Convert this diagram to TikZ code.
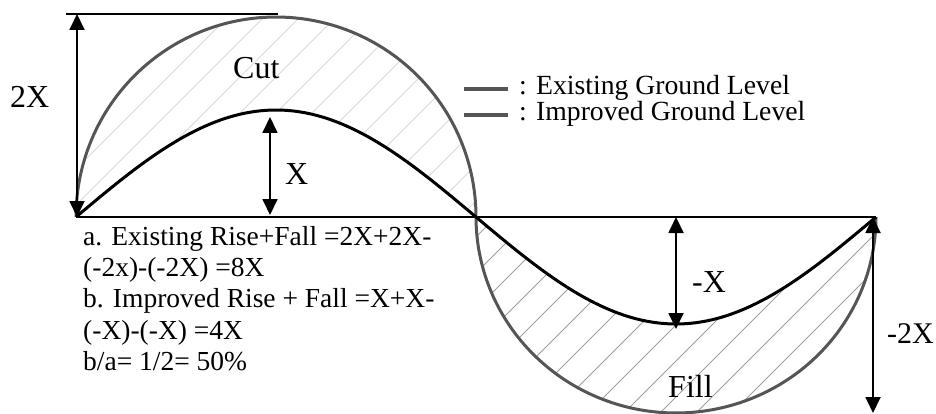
\documentclass[tikz,border=0pt]{standalone}
\usepackage{fontspec}
\setmainfont{Liberation Serif}
\usetikzlibrary{arrows.meta}
\definecolor{existcol}{HTML}{555555}
\definecolor{hatchA}{HTML}{DADADA}
\definecolor{hatchB}{HTML}{9E9E9E}
\begin{document}
\begin{tikzpicture}[x=1pt,y=-1pt,
  dim/.style={line width=1.8pt, {Triangle[width=15pt,length=16pt]}-{Triangle[width=15pt,length=16pt]}},
  existline/.style={line width=3pt, draw=existcol},
  imprline/.style={line width=3pt, draw=black},
  legline/.style={line width=4pt, draw=existcol},
  groundline/.style={line width=1.5pt, draw=black},
  lbl/.style={anchor=base west, inner sep=0pt, font=\fontsize{32}{32}\selectfont},
  txt/.style={anchor=base west, inner sep=0pt, font=\fontsize{27.5}{31}\selectfont},
  leg/.style={anchor=base west, inner sep=0pt, font=\fontsize{27.7}{31}\selectfont},
]
\useasboundingbox (0,0) rectangle (936,414);

% hatching: cut region
\begin{scope}
  \clip plot[domain=180:0, samples=100] ({276+200*cos(\x)},{217-200*sin(\x)})
     -- plot[domain=476:76, samples=100] (\x,{217-107*sin(0.45*(\x-76))}) -- cycle;
  \foreach \k in {0,...,20} \draw[hatchA, line width=1pt] ({245+36*\k},0) -- ({245+36*\k-460},460);
\end{scope}
% hatching: fill region
\begin{scope}
  \clip plot[domain=180:360, samples=100] ({676+200*cos(\x)},{217-196*sin(\x)})
     -- plot[domain=876:476, samples=100] (\x,{217-107*sin(0.45*(\x-76))}) -- cycle;
  \foreach \k in {10,...,40} \draw[hatchB, line width=1pt] ({245+36*\k},0) -- ({245+36*\k-460},460);
\end{scope}

% ground line and top reference line
\coordinate (g0) at (76,217);
\coordinate (gm) at (476,217);
\coordinate (g1) at (876,217);
\coordinate (t0) at (66,14);
\coordinate (t1) at (278,14);
\draw[groundline] (g0) -- (g1);
\draw[groundline] (t0) -- (t1);

% existing ground level (large)
\draw[existline] plot[domain=180:0, samples=120] ({276+200*cos(\x)},{217-200*sin(\x)});
\draw[existline] plot[domain=180:360, samples=120] ({676+200*cos(\x)},{217-196*sin(\x)});
% improved ground level (sine)
\draw[imprline] plot[domain=76:876, samples=200] (\x,{217-107*sin(0.45*(\x-76))});

% dimension arrows
\coordinate (a2t) at (77,14);
\coordinate (a2b) at (77,217);
\coordinate (a1t) at (270,117);
\coordinate (a1b) at (270,215);
\coordinate (b1t) at (676,217);
\coordinate (b1b) at (676,329);
\coordinate (b2t) at (873,217);
\coordinate (b2b) at (873,413);
\draw[dim] (a2t) -- (a2b);
\draw[dim] (a1t) -- (a1b);
\draw[dim] (b1t) -- (b1b);
\draw[dim] (b2t) -- (b2b);

% labels
\node[lbl] (l2x) at (10,108) {2X};
\node[lbl] (lcut) at (233,79) {Cut};
\node[lbl] (lx) at (285,185) {X};
\node[lbl] (lmx) at (692,292) {-X};
\node[lbl, font=\fontsize{30}{30}\selectfont] (lm2x) at (887,343) {-2X};
\node[lbl] (lfill) at (668,397) {Fill};

% legend
\coordinate (e0) at (464,89);
\coordinate (e1) at (508,89);
\coordinate (i0) at (464,115);
\coordinate (i1) at (508,115);
\draw[legline] (e0) -- (e1);
\draw[legline] (i0) -- (i1);
\node[leg] (legE) at (519,95) {: Existing Ground Level};
\node[leg] (legI) at (519,121) {: Improved Ground Level};

% text block
\node[txt] (ta) at (83,245) {a. Existing Rise+Fall =2X+2X-};
\node[txt] (ta2) at (83,276) {(-2x)-(-2X) =8X};
\node[txt] (tb) at (83,307) {b. Improved Rise + Fall =X+X-};
\node[txt] (tb2) at (83,339) {(-X)-(-X) =4X};
\node[txt] (tc) at (83,370) {b/a= 1/2= 50\%};
\end{tikzpicture}
\end{document}
